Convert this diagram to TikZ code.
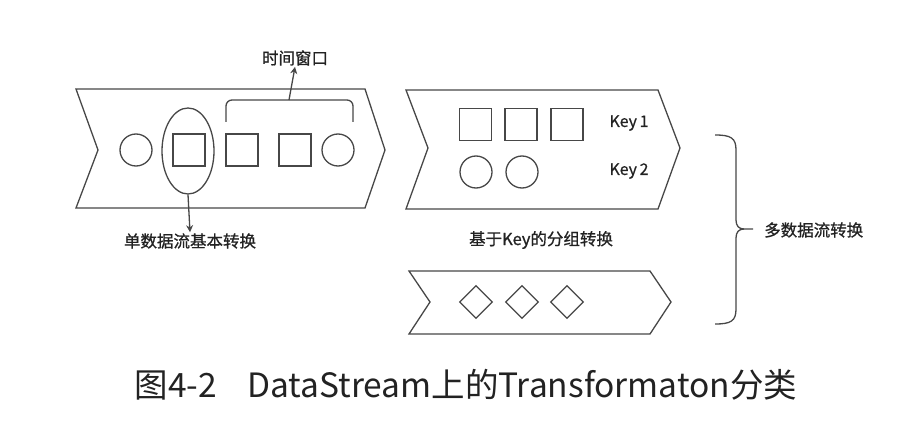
\documentclass[tikz,border=0pt]{standalone}
\usepackage{fontspec}
\newfontfamily\cjk{Noto Sans CJK SC}
\newfontfamily\cjkb[FakeBold=0.9]{Noto Sans CJK SC}
\newfontfamily\cjkk[FakeBold=0.5]{Noto Sans CJK SC}
\usetikzlibrary{shapes.geometric,arrows.meta}
\definecolor{ln}{HTML}{474747}
\definecolor{tx}{HTML}{222222}
\begin{document}
\begin{tikzpicture}[x=1pt,y=-1pt,
  ln/.style={draw=ln,line width=1.3pt},
  sq/.style={ln,rectangle,minimum size=32pt,inner sep=0pt},
  ci/.style={ln,circle,minimum size=32pt,inner sep=0pt},
  di/.style={ln,diamond,minimum size=33pt,inner sep=0pt},
  lab/.style={font=\cjkb\fontsize{16.5}{19}\selectfont,text=tx,inner sep=1pt},
  key/.style={font=\cjkk\fontsize{16}{19}\selectfont,text=tx},
  arr/.style={ln,-{Stealth[length=7pt,width=7pt]}},
]
\useasboundingbox (0,0) rectangle (921,433);
% streams
\draw[ln,line join=miter] (76,89) -- (365,89) -- (385,150) -- (365,208) -- (76,208) -- (98,150) -- cycle;
\draw[ln,line join=miter] (406,90) -- (658,90) -- (680,148) -- (658,209) -- (406,209) -- (428,148) -- cycle;
\draw[ln,line join=miter] (409,271) -- (650,271) -- (671,302) -- (650,334) -- (409,334) -- (430,302) -- cycle;
% stream 1 elements
\node[ci] (c1) at (136,150) {};
\node[ln,ellipse,minimum width=52pt,minimum height=86pt,inner sep=0pt] (el) at (188,151) {};
\node[sq] (s1) at (189,150) {};
\node[sq] (s2) at (242,150) {};
\node[sq] (s3) at (295,150) {};
\node[ci] (c2) at (338,150) {};
\draw[ln,rounded corners=6pt] (226,122) -- (226,100) -- (353,100) -- (353,122);
\coordinate (bt) at (289,100);
\node[lab] (tw) at (295,58) {时间窗口};
\draw[arr] (bt) -- (tw.south);
\node[lab] (single) at (190,241) {单数据流基本转换};
\draw[arr] (el.south) -- (single.north);
% stream 2 elements
\node[sq] (k1a) at (475.5,124.5) {};
\node[sq] (k1b) at (521,124.5) {};
\node[sq] (k1c) at (567,124.5) {};
\node[ci] (k2a) at (476,172) {};
\node[ci] (k2b) at (522,172) {};
\node[key] (key1) at (629,123) {Key\,1};
\node[key] (key2) at (629,171) {Key\,2};
\node[lab] (grp) at (541,240) {基于Key的分组转换};
% stream 3 elements
\node[di] (d1) at (476,302) {};
\node[di] (d2) at (522,302) {};
\node[di] (d3) at (567,302) {};
% brace
\draw[ln] (715,135) .. controls (731,135) and (736,138) .. (736,150) -- (736,220)
  .. controls (736,226) and (739,229) .. (744,229) -- (753,229);
\draw[ln] (715,324) .. controls (731,324) and (736,321) .. (736,309) -- (736,238)
  .. controls (736,232) and (739,229) .. (744,229);
\coordinate (bm) at (753,229);
\node[lab,anchor=west] (multi) at (763,230) {多数据流转换};
% caption
\node[font=\cjk\fontsize{33.5}{40}\selectfont,text=tx] (cap) at (466,385) {图4-2\hspace{0.9em}DataStream上的Transformaton分类};
\end{tikzpicture}
\end{document}
